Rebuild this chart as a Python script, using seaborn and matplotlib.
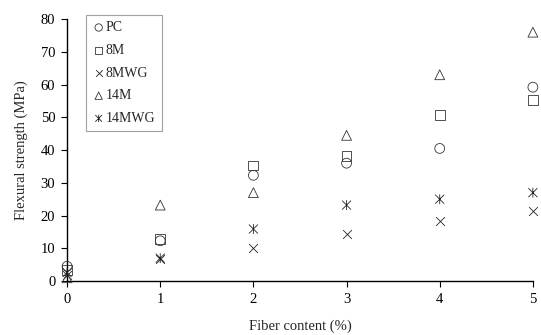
import matplotlib
matplotlib.use('Agg')
import matplotlib.pyplot as plt
from matplotlib.path import Path
import seaborn as sns
import pandas as pd

sns.set_style('ticks')
plt.rcParams['font.family'] = ['Liberation Serif', 'DejaVu Serif']

# 섬유 함량 (%)
fiber = [0, 1, 2, 3, 4, 5]

# 시리즈별 휨강도 (MPa)
pc = [4.5, 12.3, 32.3, 36.0, 40.5, 59.2]
m8 = [3.5, 12.9, 35.3, 38.3, 50.7, 55.3]
mwg8 = [1.8, 6.7, 10.0, 14.4, 18.4, 21.3]
m14 = [1.0, 23.2, 27.0, 44.5, 63.0, 76.0]
mwg14 = [2.6, 7.0, 15.9, 23.2, 25.0, 27.0]

series = ['PC', '8M', '8MWG', '14M', '14MWG']
values = [pc, m8, mwg8, m14, mwg14]

# X + 세로선 형태의 별표 마커
star = Path([(-1, -1), (1, 1), (-1, 1), (1, -1), (0, -1.1), (0, 1.1)],
            [Path.MOVETO, Path.LINETO, Path.MOVETO, Path.LINETO,
             Path.MOVETO, Path.LINETO])
markers = ['o', 's', 'x', '^', star]
sizes = [50, 50, 40, 50, 50]

fig, ax = plt.subplots(figsize=(5.41, 3.35), dpi=100)
fig.subplots_adjust(left=0.124, right=0.985, bottom=0.161, top=0.943)

for name, vals, mk, sz in zip(series, values, markers, sizes):
    df = pd.DataFrame({'fiber': fiber, 'strength': vals})
    if mk == 'x':
        sns.scatterplot(data=df, x='fiber', y='strength', marker=mk, s=sz,
                        color='#222222', linewidth=0.6, label=name, ax=ax,
                        clip_on=False, zorder=3)
    elif isinstance(mk, Path):
        sns.scatterplot(data=df, x='fiber', y='strength', marker=mk, s=sz,
                        facecolor='none', edgecolor='#222222', linewidth=0.6,
                        label=name, ax=ax, clip_on=False, zorder=3)
    else:
        sns.scatterplot(data=df, x='fiber', y='strength', marker=mk, s=sz,
                        facecolor='none', edgecolor='#333333', linewidth=0.6,
                        label=name, ax=ax, clip_on=False, zorder=3)

ax.set_xlim(0, 5)
ax.set_ylim(0, 80)
ax.set_xticks(range(0, 6))
ax.set_yticks(range(0, 81, 10))
ax.tick_params(labelsize=10.5, length=4, width=0.8, direction='out', pad=4.5,
               colors='black')
ax.set_xlabel('Fiber content (%)', fontsize=10.5, labelpad=10)
ax.set_ylabel('Flexural strength (MPa)', fontsize=10.5, labelpad=9)
sns.despine(ax=ax)
for sp in ['left', 'bottom']:
    ax.spines[sp].set_linewidth(1.0)
    ax.spines[sp].set_color('black')

leg = ax.legend(loc='upper left', bbox_to_anchor=(0.041, 1.016), fontsize=10,
                frameon=True, fancybox=False, edgecolor='#888888',
                handletextpad=0.05, handlelength=0.9, labelspacing=0.7,
                borderpad=0.45, borderaxespad=0.0, markerscale=0.75)
leg.get_frame().set_linewidth(0.8)

fig.savefig('out.png', dpi=100)
